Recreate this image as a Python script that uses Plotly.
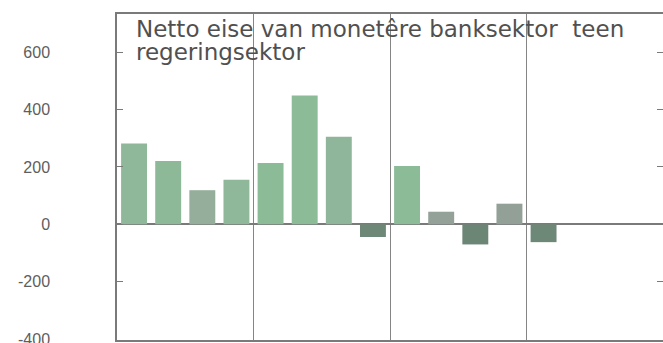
import plotly.graph_objects as go

# Quarterly slots (four per year, four years); the last three are empty
quarters = ["1", "2", "3", "4", "5", "6", "7", "8",
            "9", "10", "11", "12", "13", "14", "15", "16"]
net_claims = [282, 221, 119, 155, 214, 449, 305, -44,
              203, 44, -70, 72, -62, None, None, None]
bar_colors = ["#8fb79a", "#8db998", "#94ae9b", "#8fb89a", "#8cbb98", "#8cbb98",
              "#8fb69a", "#6e8878", "#8cbb98", "#93a198", "#6c8676", "#93a098",
              "#6e8878", "#8cbb98", "#8cbb98", "#8cbb98"]

y_ticks = [-400, -200, 0, 200, 400, 600]
y_tick_text = ["-400", "-200", "0", "200", "400", "600"]
year_breaks = [3.5, 7.5, 11.5]

title_lines = ["Netto eise van monetêre banksektor  teen", "regeringsektor"]

x_pos = list(range(len(quarters)))

fig = go.Figure(
    go.Bar(
        x=x_pos,
        y=net_claims,
        marker=dict(color=bar_colors, line=dict(width=0)),
        width=0.76,
        hoverinfo="skip",
    )
)

frame = "#7a7a7a"

# Two title lines set as separate annotations for tight line spacing
title_annotations = [
    dict(
        text=line,
        xref="paper", yref="paper",
        x=0.032, y=y,
        xanchor="left", yanchor="middle",
        align="left",
        showarrow=False,
        font=dict(family="DejaVu Sans, sans-serif", size=23, color="#505050"),
    )
    for line, y in zip(title_lines, [0.954, 0.884])
]

fig.update_layout(
    width=663,
    height=343,
    margin=dict(l=117, r=0, t=14, b=3, autoexpand=False),
    paper_bgcolor="white",
    plot_bgcolor="white",
    showlegend=False,
    xaxis=dict(
        range=[-0.5, 15.5],
        tickvals=year_breaks,
        showticklabels=False,
        ticks="",
        showgrid=True,
        gridcolor="#858585",
        gridwidth=1.3,
        zeroline=False,
        showline=True,
        linecolor=frame,
        linewidth=1.5,
        mirror=True,
        automargin=False,
    ),
    yaxis=dict(
        range=[-403, 733],
        tickvals=y_ticks,
        ticktext=y_tick_text,
        ticks="inside",
        ticklen=6,
        tickcolor=frame,
        tickwidth=1.3,
        ticklabelstandoff=62,
        ticklabeloverflow="allow",
        tickfont=dict(family="Liberation Sans, Arial, sans-serif", size=16, color="#5e5e5e"),
        showgrid=False,
        zeroline=True,
        zerolinecolor="#7a7a7a",
        zerolinewidth=1.5,
        showline=True,
        linecolor=frame,
        linewidth=1.5,
        mirror="ticks",
        automargin=False,
    ),
    annotations=title_annotations,
)

fig.write_html("out.html")
